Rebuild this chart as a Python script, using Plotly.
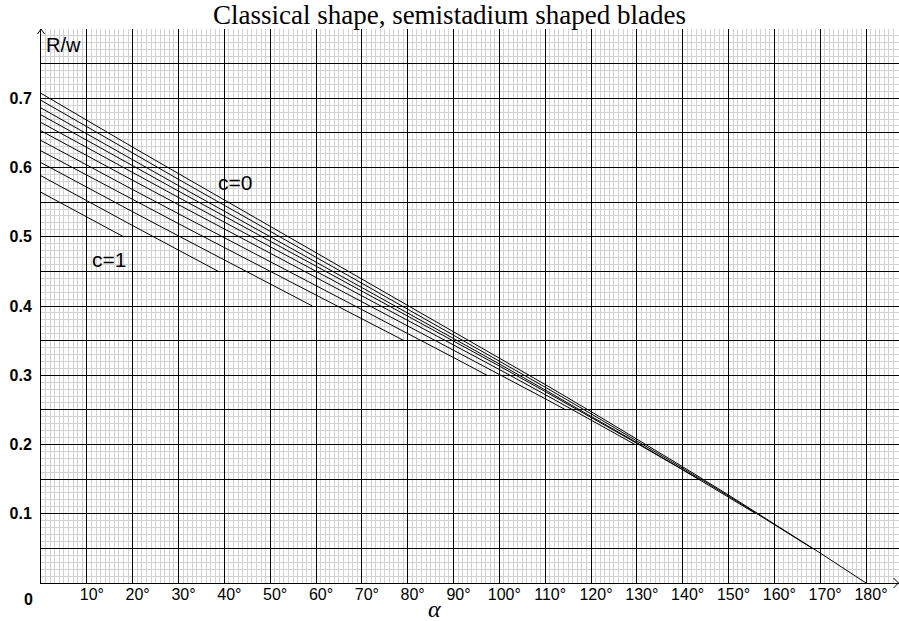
import plotly.graph_objects as go

# ---------------- data ----------------
alpha_c00 = [0, 10, 20, 30, 40, 50, 60, 70, 80, 90, 100, 110, 120, 130, 140, 150, 160, 170, 180]
R_c00 = [0.7071, 0.6680, 0.6294, 0.5912, 0.5531, 0.5152, 0.4773, 0.4395, 0.4016, 0.3636,
         0.3253, 0.2866, 0.2476, 0.2080, 0.1679, 0.1271, 0.0856, 0.0433, 0.0]

alpha_c01 = [0, 10, 20, 30, 40, 50, 60, 70, 80, 90, 100, 110, 120, 130, 140, 150, 160, 168.3]
R_c01 = [0.697, 0.6586, 0.6205, 0.5829, 0.5454, 0.5080, 0.4707, 0.4334, 0.3961, 0.3587,
         0.3209, 0.2828, 0.2444, 0.2053, 0.1658, 0.1256, 0.0846, 0.05]

alpha_c02 = [0, 10, 20, 30, 40, 50, 60, 70, 80, 90, 100, 110, 120, 130, 140, 150, 156]
R_c02 = [0.686, 0.6482, 0.6108, 0.5738, 0.5369, 0.5002, 0.4635, 0.4269, 0.3902, 0.3534,
         0.3163, 0.2788, 0.2410, 0.2026, 0.1637, 0.1241, 0.10]

alpha_c03 = [0, 10, 20, 30, 40, 50, 60, 70, 80, 90, 100, 110, 120, 130, 140, 143.5]
R_c03 = [0.676, 0.6389, 0.6022, 0.5659, 0.5297, 0.4937, 0.4577, 0.4218, 0.3858, 0.3497,
         0.3133, 0.2765, 0.2394, 0.2017, 0.1635, 0.15]

alpha_c04 = [0, 10, 20, 30, 40, 50, 60, 70, 80, 90, 100, 110, 120, 129.6]
R_c04 = [0.665, 0.6285, 0.5924, 0.5567, 0.5211, 0.4857, 0.4503, 0.4150, 0.3796, 0.3441,
         0.3083, 0.2721, 0.2356, 0.20]

alpha_c05 = [0, 10, 20, 30, 40, 50, 60, 70, 80, 90, 100, 110, 114.5]
R_c05 = [0.653, 0.6170, 0.5815, 0.5463, 0.5113, 0.4764, 0.4416, 0.4068, 0.3720, 0.3370,
         0.3018, 0.2661, 0.25]

alpha_c06 = [0, 10, 20, 30, 40, 50, 60, 70, 80, 90, 97.3]
R_c06 = [0.639, 0.6033, 0.5681, 0.5332, 0.4984, 0.4638, 0.4293, 0.3948, 0.3602, 0.3256, 0.30]

alpha_c07 = [0, 10, 20, 30, 40, 50, 60, 70, 79.2]
R_c07 = [0.624, 0.5886, 0.5535, 0.5189, 0.4844, 0.4501, 0.4157, 0.3815, 0.35]

alpha_c08 = [0, 10, 20, 30, 40, 50, 59.2]
R_c08 = [0.607, 0.5713, 0.5361, 0.5012, 0.4664, 0.4318, 0.40]

alpha_c09 = [0, 10, 20, 30, 38.7]
R_c09 = [0.588, 0.5518, 0.5161, 0.4807, 0.45]

alpha_c10 = [0, 10, 18]
R_c10 = [0.5642, 0.5283, 0.50]

x_tick_vals = [10, 20, 30, 40, 50, 60, 70, 80, 90, 100, 110, 120, 130, 140, 150, 160, 170, 180]
x_tick_text = ["10°", "20°", "30°", "40°", "50°", "60°", "70°", "80°", "90°", "100°",
               "110°", "120°", "130°", "140°", "150°", "160°", "170°", "180°"]
y_tick_vals = [0.05, 0.1, 0.15, 0.2, 0.25, 0.3, 0.35, 0.4, 0.45, 0.5, 0.55, 0.6, 0.65, 0.7, 0.75, 0.8]
y_tick_text = ["", "0.1", "", "0.2", "", "0.3", "", "0.4", "", "0.5", "", "0.6", "", "0.7", "", ""]

title_text = "Classical shape, semistadium shaped blades"

# ---------------- figure ----------------
curves = [
    (alpha_c00, R_c00), (alpha_c01, R_c01), (alpha_c02, R_c02), (alpha_c03, R_c03),
    (alpha_c04, R_c04), (alpha_c05, R_c05), (alpha_c06, R_c06), (alpha_c07, R_c07),
    (alpha_c08, R_c08), (alpha_c09, R_c09), (alpha_c10, R_c10),
]

fig = go.Figure()
for a, r in curves:
    fig.add_trace(go.Scatter(x=a, y=r, mode="lines",
                             line=dict(color="black", width=1),
                             showlegend=False, hoverinfo="skip"))

W, H = 899, 621
ML, MR, MT, MB = 41, 0, 29, 38
PW, PH = W - ML - MR, H - MT - MB

fig.update_layout(
    width=W, height=H,
    margin=dict(l=ML, r=MR, t=MT, b=MB, pad=0, autoexpand=False),
    paper_bgcolor="white", plot_bgcolor="white",
    showlegend=False,
    title=dict(text=title_text, x=0.5, xanchor="center", xref="container",
               y=1 - 14.5 / H, yref="container", yanchor="middle",
               pad=dict(t=0, b=0, l=0, r=0),
               font=dict(family="Liberation Serif", size=27, color="black")),
)

fig.update_xaxes(
    range=[0, 187.2], tickmode="array", tickvals=x_tick_vals, ticktext=x_tick_text,
    showgrid=True, gridcolor="#000000", gridwidth=1,
    minor=dict(tickmode="linear", tick0=0, dtick=1, showgrid=True,
               gridcolor="#d2d2d2", gridwidth=1, ticks=""),
    showline=True, linecolor="black", linewidth=1, ticks="", zeroline=False,
    tickfont=dict(family="Liberation Sans", size=16, color="black"),
    ticklabelshift=5, ticklabelstandoff=-3, automargin=False,
)
fig.update_yaxes(
    range=[0, 0.8], tickmode="array", tickvals=y_tick_vals, ticktext=y_tick_text,
    showgrid=True, gridcolor="#000000", gridwidth=1,
    minor=dict(tickmode="linear", tick0=0, dtick=0.01, showgrid=True,
               gridcolor="#d2d2d2", gridwidth=1, ticks=""),
    showline=True, linecolor="black", linewidth=1, ticks="", zeroline=False,
    tickfont=dict(family="Liberation Sans", size=16, color="black", weight="bold"),
    ticklabelstandoff=5, automargin=False,
)

# axis arrow heads (paper coordinates)
ax_ = 3.5 / PW
ay_ = 5.0 / PH
fig.add_shape(type="path", xref="paper", yref="paper",
              path=f"M {-ax_},{1 - ay_} L 0,1 L {ax_},{1 - ay_}",
              line=dict(color="black", width=1))
tipx = (898.5 - ML) / PW
fig.add_shape(type="path", xref="paper", yref="paper",
              path=f"M {tipx - 5 / PW},{5 / PH} L {tipx},0 L {tipx - 5 / PW},{-5 / PH}",
              line=dict(color="black", width=1))

# texts
fig.add_annotation(x=0, y=0, xref="x", yref="y", text="<b>0</b>", showarrow=False,
                   xanchor="center", yanchor="middle", xshift=-13, yshift=-16,
                   font=dict(family="Liberation Sans", size=16, color="black"))
fig.add_annotation(x=0, y=0.8, xref="x", yref="y", text="R/w", showarrow=False,
                   xanchor="left", yanchor="top", xshift=3, yshift=-3,
                   font=dict(family="Liberation Sans", size=20, color="black"))
fig.add_annotation(x=(434 - ML) / PW, y=0, xref="paper", yref="paper", text="<i>α</i>",
                   showarrow=False, xanchor="center", yanchor="middle",
                   yshift=-26,
                   font=dict(family="Liberation Serif", size=24, color="black"))
fig.add_annotation(x=42.3, y=0.578, xref="x", yref="y", text="c=0", showarrow=False,
                   xanchor="center", yanchor="middle",
                   font=dict(family="Liberation Sans", size=21, color="black"))
fig.add_annotation(x=14.8, y=0.467, xref="x", yref="y", text="c=1", showarrow=False,
                   xanchor="center", yanchor="middle",
                   font=dict(family="Liberation Sans", size=21, color="black"))

fig.write_html("out.html", config={"displayModeBar": False},
               post_script="document.body.style.margin='0';")
